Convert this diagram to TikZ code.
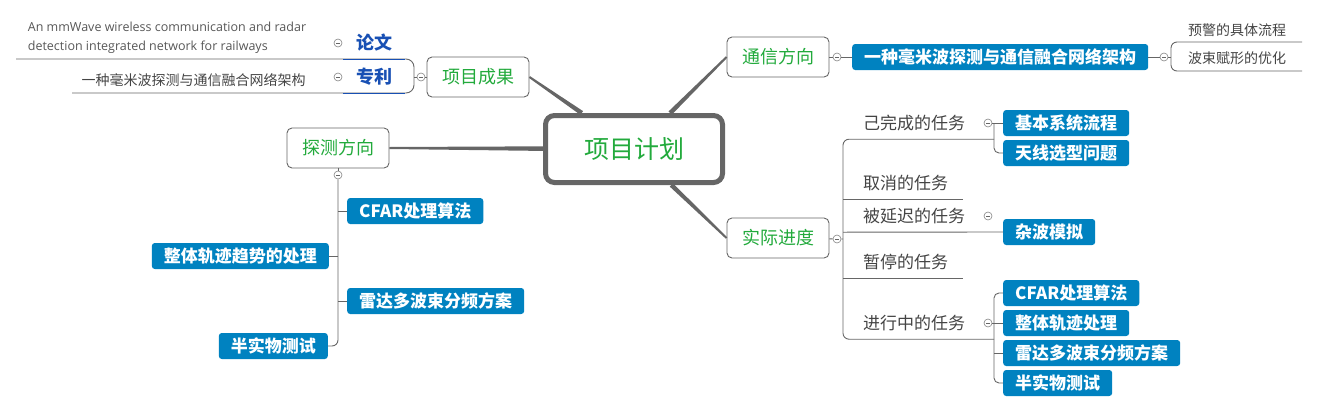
\documentclass[tikz,border=0pt]{standalone}
\usepackage{fontspec}
\setmainfont{Open Sans}
\newfontfamily\cjk{Noto Sans CJK SC}
\usetikzlibrary{positioning, calc}
\definecolor{mapGray}{RGB}{102,102,102}
\definecolor{mapText}{RGB}{68,68,68}
\definecolor{mapGreen}{RGB}{34,170,60}
\definecolor{mapBlue}{RGB}{0,130,192}
\definecolor{mapLink}{RGB}{24,80,180}

\begin{document}
\begin{tikzpicture}[
        x=1pt,
        y=-1pt,
        link/.style={draw=mapGray, line width=0.9pt},
        root/.style={draw=mapGray, line width=5pt, rounded corners=9pt, fill=white, minimum width=177pt, minimum height=67pt, text=mapGreen, font=\cjk\fontsize{25}{30}\selectfont},
        mainbox/.style={draw=mapGray, line width=0.9pt, rounded corners=5pt, fill=white, minimum width=102pt, minimum height=40pt, text=mapGreen, font=\cjk\fontsize{18}{22}\selectfont},
        leaf/.style={fill=mapBlue, rounded corners=3pt, text=white, minimum height=26pt, inner xsep=12pt, inner ysep=0pt, font=\cjk\bfseries\fontsize{17}{20}\selectfont},
        task/.style={text=mapText, anchor=west, inner sep=0pt, minimum height=32pt, font=\cjk\fontsize{17}{20}\selectfont},
        plaintext/.style={text=mapText, inner sep=0pt, font=\cjk\fontsize{14}{17}\selectfont},
        tag/.style={text=mapLink, inner sep=0pt, minimum width=62pt, minimum height=32pt, font=\cjk\bfseries\fontsize{18}{22}\selectfont},
        tog/.style={circle, draw=mapGray!80, fill=white, line width=0.6pt, minimum size=8pt, inner sep=0pt,
            path picture={\draw[mapGray, line width=0.6pt] ([xshift=-2pt]path picture bounding box.center) -- ([xshift=2pt]path picture bounding box.center);}}
    ]
        \useasboundingbox (0,0) rectangle (1318,413);

        % centre and first level
        \node[root] (plan) at (634,149) {项目计划};
        \node[mainbox] (result) at (478,77) {项目成果};
        \node[mainbox] (comm) at (778,57) {通信方向};
        \node[mainbox] (detect) at (338,148) {探测方向};
        \node[mainbox] (progress) at (778,238) {实际进度};
        % tapered trunks
        \foreach \n/\a in {result/east, comm/west, detect/east, progress/west} {
            \path (plan) -- (\n.\a) coordinate[pos=0] (ta) coordinate[pos=1] (tb);
            \fill[mapGray] ($(ta)!2.3pt!90:(tb)$) -- ($(tb)!1pt!-90:(ta)$) -- ($(tb)!1pt!90:(ta)$) -- ($(ta)!2.3pt!-90:(tb)$) -- cycle;
        }

        % project results
        \node[tog] (t1) at (421,77) {};
        \coordinate (jr) at (414,77);
        \coordinate (paperEnd) at (16,59);
        \coordinate (patentEnd) at (72,93);
        \draw[link] (result) -- (t1) -- (jr);
        \draw[link, rounded corners=8pt] (paperEnd) -- (paperEnd -| jr) -- (patentEnd -| jr) -- (patentEnd);
        \node[tag] (paper) at (374,43) {论文};
        \node[tag] (patent) at (374,77) {专利};
        \draw[draw=mapLink, line width=0.9pt] (paper.south west) -- (paper.south east);
        \draw[draw=mapLink, line width=0.9pt] (patent.south west) -- (patent.south east);
        \node[tog] (tp1) at (338,43) {};
        \node[tog] (tp2) at (338,77) {};
        \node[text=mapText!90, inner sep=0pt, align=left, font=\fontsize{12.5}{19}\selectfont] (paperEn) at (167,37.5)
            {An mmWave wireless communication and radar\\detection integrated network for railways};
        \node[plaintext] (patentCn) at (193.5,80) {一种毫米波探测与通信融合网络架构};

        % communication
        \node[tog] (t2) at (837,57) {};
        \node[leaf, anchor=west] (arch) at (852,57) {一种毫米波探测与通信融合网络架构};
        \draw[link] (comm) -- (t2) -- (arch);
        \node[tog] (t3) at (1164,57) {};
        \coordinate (jc) at (1171,57);
        \coordinate (warnEnd) at (1302,42);
        \coordinate (beamEnd) at (1302,71);
        \draw[link] (arch) -- (t3) -- (jc);
        \draw[link, rounded corners=6pt] (warnEnd) -- (warnEnd -| jc) -- (beamEnd -| jc) -- (beamEnd);
        \node[plaintext] (warn) at (1237,30) {预警的具体流程};
        \node[plaintext] (beam) at (1237,58) {波束赋形的优化};

        % detection
        \node[tog] (t4) at (338,175) {};
        \draw[link] (detect) -- (t4);
        \node[leaf, anchor=west] (d1) at (347,211) {CFAR处理算法};
        \node[leaf, anchor=east] (d2) at (329,256) {整体轨迹趋势的处理};
        \node[leaf, anchor=west] (d3) at (347,301) {雷达多波束分频方案};
        \node[leaf, anchor=east] (d4) at (328,346) {半实物测试};
        \coordinate (dv) at (338,346);
        \draw[link, rounded corners=6pt] (t4) -- (dv) -- (d4.east);
        \draw[link] (d1.west -| dv) -- (d1.west);
        \draw[link] (d2.east -| dv) -- (d2.east);
        \draw[link] (d3.west -| dv) -- (d3.west);

        % progress
        \node[tog] (t5) at (837,239) {};
        \coordinate (pv) at (843,239);
        \coordinate (cut) at (963,0);
        \coordinate (cj) at (994,123);
        \coordinate (rj) at (994,323);
        \draw[link] (progress) -- (t5) -- (pv);
        \node[task] (done) at (863,123) {己完成的任务};
        \node[task] (cancel) at (863,183) {取消的任务};
        \node[task] (delay) at (863,216) {被延迟的任务};
        \node[task] (pause) at (863,262) {暂停的任务};
        \node[task] (running) at (863,323) {进行中的任务};
        \draw[link, rounded corners=6pt] (done.south -| cj) -- (done.south -| pv) -- (running.south -| pv) -- (running.south -| rj);
        \draw[link] (cancel.south -| pv) -- (cancel.south -| cut);
        \draw[link] (pause.south -| pv) -- (pause.south -| cut);

        \node[tog] (t6) at (988,123) {};
        \node[leaf, anchor=west] (c1) at (1003,123) {基本系统流程};
        \node[leaf, anchor=west] (c2) at (1003,153) {天线选型问题};
        \draw[link] (t6) -- (c1);
        \draw[link, rounded corners=5pt] (cj) -- (c2.west -| cj) -- (c2.west);

        \node[tog] (t7) at (988,216) {};
        \node[leaf, anchor=west] (clutter) at (1003,232) {杂波模拟};
        \draw[link] (delay.south -| pv) -- (clutter.west);

        \node[tog] (t8) at (988,323) {};
        \node[leaf, anchor=west] (r1) at (1003,293) {CFAR处理算法};
        \node[leaf, anchor=west] (r2) at (1003,323) {整体轨迹处理};
        \node[leaf, anchor=west] (r3) at (1003,353) {雷达多波束分频方案};
        \node[leaf, anchor=west] (r4) at (1003,383) {半实物测试};
        \draw[link, rounded corners=5pt] (r1.west) -- (r1.west -| rj) -- (r4.west -| rj) -- (r4.west);
        \draw[link] (t8) -- (r2);
        \draw[link] (r3.west -| rj) -- (r3.west);
    \end{tikzpicture}
\end{document}
